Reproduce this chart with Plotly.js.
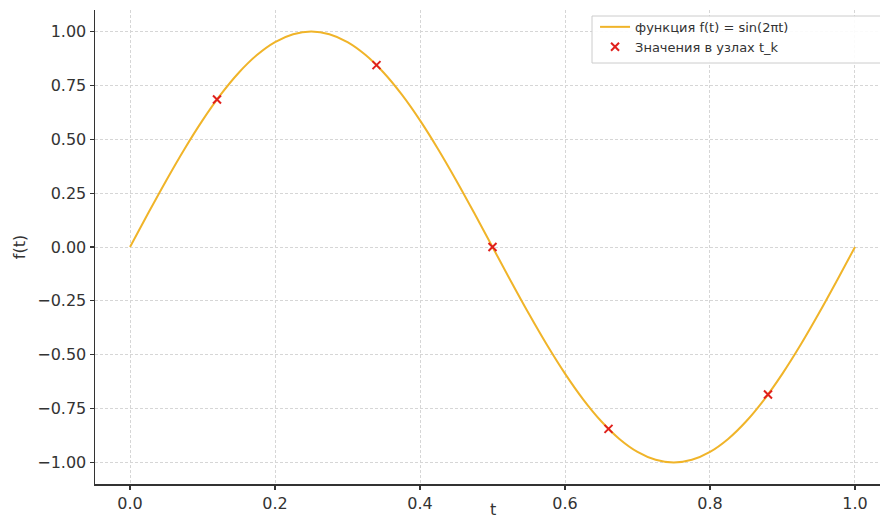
<!DOCTYPE html>
<html>
<head>
<meta charset="utf-8">
<script src="https://cdn.plot.ly/plotly-3.0.1.min.js"></script>
<style>html,body{margin:0;padding:0;background:#fff;}#chart{width:880px;height:522px;}</style>
</head>
<body>
<div id="chart"></div>
<script>
// Curve samples (f(t) = sin(2πt))
const curveT = [0,0.025,0.05,0.075,0.1,0.125,0.15,0.175,0.2,0.225,0.25,0.275,0.3,0.325,0.35,0.375,0.4,0.425,0.45,0.475,0.5,0.525,0.55,0.575,0.6,0.625,0.65,0.675,0.7,0.725,0.75,0.775,0.8,0.825,0.85,0.875,0.9,0.925,0.95,0.975,1.0];
const curveF = [0,0.1564,0.3090,0.4540,0.5878,0.7071,0.8090,0.8910,0.9511,0.9877,1.0,0.9877,0.9511,0.8910,0.8090,0.7071,0.5878,0.4540,0.3090,0.1564,0,-0.1564,-0.3090,-0.4540,-0.5878,-0.7071,-0.8090,-0.8910,-0.9511,-0.9877,-1.0,-0.9877,-0.9511,-0.8910,-0.8090,-0.7071,-0.5878,-0.4540,-0.3090,-0.1564,0];
// Node values t_k
const nodeT = [0.12, 0.34, 0.5, 0.66, 0.88];
const nodeF = [0.6845, 0.8443, 0.0, -0.8443, -0.6845];
const seriesNames = ["функция f(t) = sin(2πt)", "Значения в узлах t_k"];
const xTicks = [0.0, 0.2, 0.4, 0.6, 0.8, 1.0];
const yTicks = [-1.0, -0.75, -0.5, -0.25, 0.0, 0.25, 0.5, 0.75, 1.0];

const traces = [
  {x: curveT, y: curveF, type: 'scatter', mode: 'lines', name: seriesNames[0],
   line: {color: '#f0b429', width: 2, shape: 'spline'}},
  {x: nodeT, y: nodeF, type: 'scatter', mode: 'markers', name: seriesNames[1],
   marker: {symbol: 'x-thin', size: 8, color: '#e0201c', line: {color: '#e0201c', width: 2}}}
];

const axisCommon = {
  showline: true, linecolor: '#333', linewidth: 1.5,
  ticks: 'outside', ticklen: 4, tickwidth: 1.2, tickcolor: '#333',
  showgrid: true, gridcolor: '#d6d6d6', griddash: '3px,2px', gridwidth: 1,
  zeroline: false, mirror: false,
  tickfont: {family: 'DejaVu Sans', size: 16, color: '#333'}
};

const layout = {
  width: 880, height: 522,
  margin: {l: 95, r: 0, t: 10, b: 38},
  paper_bgcolor: '#fff', plot_bgcolor: '#fff',
  font: {family: 'DejaVu Sans', color: '#333'},
  xaxis: Object.assign({}, axisCommon, {
    range: [-0.0483, 1.0345], tickvals: xTicks, tickformat: '.1f'
  }),
  yaxis: Object.assign({}, axisCommon, {
    range: [-1.1, 1.1], tickvals: yTicks, tickformat: '.2f',
    title: {text: 'f(t)', font: {size: 16, color: '#333'}, standoff: 7}
  }),
  annotations: [{text: 't', xref: 'x', yref: 'paper', x: 0.5, y: 0, yshift: -15,
    xanchor: 'center', yanchor: 'top', showarrow: false, borderpad: 0,
    font: {family: 'DejaVu Sans', size: 16, color: '#333'}}],
  shapes: [{type: 'rect', xref: 'paper', yref: 'paper', layer: 'above',
    x0: (592 - 95) / 785, x1: (884 - 95) / 785, y0: 1 - (63 - 10) / 474, y1: 1 - (16 - 10) / 474,
    fillcolor: 'rgba(255,255,255,0.9)', line: {color: '#cccccc', width: 1}}],
  showlegend: true,
  legend: {x: 0.637, y: 0.996, xanchor: 'left', yanchor: 'top',
    bgcolor: 'rgba(0,0,0,0)', borderwidth: 0,
    font: {family: 'DejaVu Sans', size: 13, color: '#333'}, tracegroupgap: 0}
};

Plotly.newPlot('chart', traces, layout, {displayModeBar: false, staticPlot: true});
</script>
</body>
</html>
